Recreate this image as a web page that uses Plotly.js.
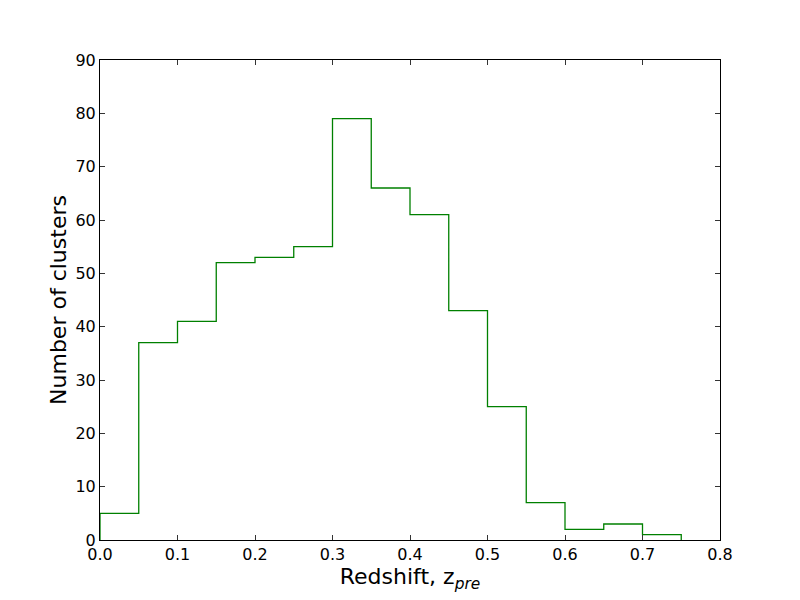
<!DOCTYPE html>
<html>
<head>
<meta charset="utf-8">
<script src="https://cdn.plot.ly/plotly-3.0.1.min.js"></script>
<style>body{margin:0;padding:0;background:#fff;}#chart{width:800px;height:600px;}</style>
</head>
<body>
<div id="chart"></div>
<script>
const binEdges = [0.0, 0.05, 0.10, 0.15, 0.20, 0.25, 0.30, 0.35, 0.40, 0.45, 0.50, 0.55, 0.60, 0.65, 0.70, 0.75];
const counts = [5, 37, 41, 52, 53, 55, 79, 66, 61, 43, 25, 7, 2, 3, 1];

const xs = [binEdges[0]];
const ys = [0];
for (let i = 0; i < counts.length; i++) {
  xs.push(binEdges[i]);
  ys.push(counts[i]);
}
xs.push(binEdges[binEdges.length - 1]);
ys.push(0);

const trace = {
  x: xs, y: ys, type: 'scatter', mode: 'lines',
  line: {shape: 'hv', color: '#008000', width: 1.3},
  hoverinfo: 'skip', showlegend: false
};

const axisCommon = {
  showgrid: false, zeroline: false,
  showline: true, linecolor: '#000', linewidth: 1,
  mirror: 'ticks', ticks: 'inside', ticklen: 5, tickwidth: 1, tickcolor: '#333',
  tickfont: {family: 'DejaVu Sans', size: 16, color: '#000'}
};

const layout = {
  width: 800, height: 600,
  margin: {l: 100, r: 80, t: 60, b: 60},
  paper_bgcolor: '#fff', plot_bgcolor: '#fff',
  xaxis: Object.assign({}, axisCommon, {
    range: [0, 0.8], tickvals: [0,0.1,0.2,0.3,0.4,0.5,0.6,0.7,0.8], tickformat: '.1f',
    title: {text: 'Redshift, z<sub><i>pre</i></sub>', font: {family: 'DejaVu Sans', size: 22, color: '#000'}, standoff: 1}
  }),
  yaxis: Object.assign({}, axisCommon, {
    range: [0, 90], dtick: 10,
    title: {text: 'Number of clusters', font: {family: 'DejaVu Sans', size: 22, color: '#000'}, standoff: 2}
  })
};

Plotly.newPlot('chart', [trace], layout, {displayModeBar: false, staticPlot: true});
</script>
</body>
</html>
